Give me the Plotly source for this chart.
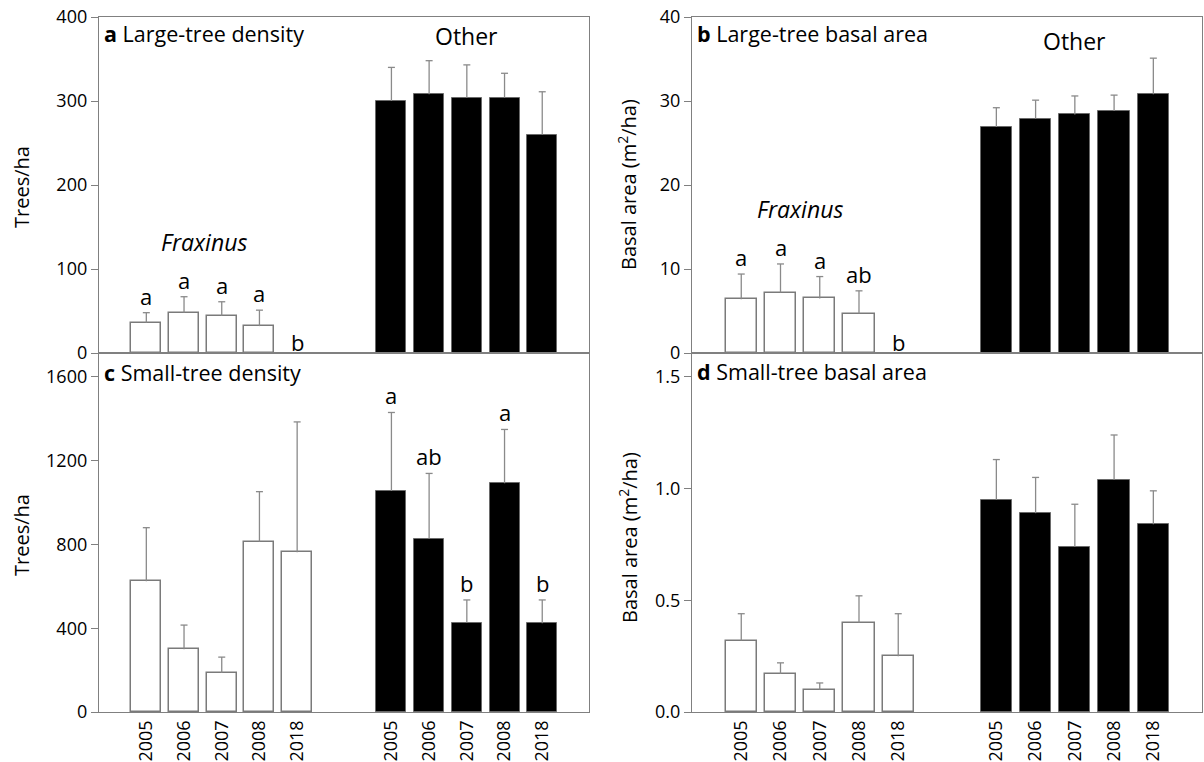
import plotly.graph_objects as go

# ---------------- data ----------------
years = ["2005", "2006", "2007", "2008", "2018"]

# Panel a: large-tree density (trees/ha)
a_frax_mean = [36, 48, 44, 32, 0]
a_frax_se = [12, 19, 17, 19, 0]
a_other_mean = [300, 308, 304, 304, 260]
a_other_se = [40, 40, 39, 29, 51]
a_frax_letters = ["a", "a", "a", "a", "b"]

# Panel b: large-tree basal area (m2/ha)
b_frax_mean = [6.4, 7.2, 6.5, 4.7, 0]
b_frax_se = [3.0, 3.4, 2.6, 2.7, 0]
b_other_mean = [26.9, 27.9, 28.4, 28.8, 30.8]
b_other_se = [2.3, 2.2, 2.2, 1.9, 4.3]
b_frax_letters = ["a", "a", "a", "ab", "b"]

# Panel c: small-tree density (trees/ha)
c_frax_mean = [624, 299, 186, 813, 763]
c_frax_se = [256, 116, 76, 239, 622]
c_other_mean = [1055, 828, 427, 1092, 424]
c_other_se = [375, 311, 108, 257, 111]
c_other_letters = ["a", "ab", "b", "a", "b"]

# Panel d: small-tree basal area (m2/ha)
d_frax_mean = [0.32, 0.17, 0.10, 0.40, 0.25]
d_frax_se = [0.12, 0.05, 0.03, 0.12, 0.19]
d_other_mean = [0.95, 0.89, 0.74, 1.04, 0.84]
d_other_se = [0.18, 0.16, 0.19, 0.20, 0.15]

# ---------------- layout helpers ----------------
W, H = 1204, 762
FONT = "Open Sans"
GRAY = "#808080"
ERRC = "#8a8a8a"

x_frax = [i for i in range(len(years))]
x_other = [i + 6.5 for i in range(len(years))]
XRANGE = [-1.255, 11.74]
BARW = 0.795


def px_x(p):
    return p / W


def px_y(p):
    return (H - p) / H


dom_left = [px_x(99), px_x(589)]
dom_right = [px_x(692), px_x(1202)]
dom_top = [px_y(353), px_y(17)]
dom_bot = [px_y(712), px_y(353)]

fig = go.Figure()


def add_errors(xs, means, ses, xa, ya):
    lx, ly, cx, cy = [], [], [], []
    for x, m, s in zip(xs, means, ses):
        if s <= 0:
            continue
        lx += [x, x, None]
        ly += [m, m + s, None]
        cx.append(x)
        cy.append(m + s)
    fig.add_trace(go.Scatter(x=lx, y=ly, mode="lines", xaxis=xa, yaxis=ya,
                             line=dict(color=ERRC, width=1.3),
                             showlegend=False, hoverinfo="skip"))
    fig.add_trace(go.Scatter(x=cx, y=cy, mode="markers", xaxis=xa, yaxis=ya,
                             marker=dict(symbol="line-ew", size=5,
                                         line=dict(color=ERRC, width=1.3)),
                             showlegend=False, hoverinfo="skip"))


def add_bars(xa, ya, frax_mean, frax_se, other_mean, other_se):
    fig.add_trace(go.Bar(
        x=x_frax, y=frax_mean, width=BARW, xaxis=xa, yaxis=ya,
        marker=dict(color="white",
                    line=dict(color="#7a7a7a",
                              width=[1.5 if v > 0 else 0 for v in frax_mean])),
        showlegend=False, hoverinfo="skip"))
    fig.add_trace(go.Bar(
        x=x_other, y=other_mean, width=BARW, xaxis=xa, yaxis=ya,
        marker=dict(color="black", line=dict(color="#6a6a6a", width=1)),
        showlegend=False, hoverinfo="skip"))
    add_errors(x_frax, frax_mean, frax_se, xa, ya)
    add_errors(x_other, other_mean, other_se, xa, ya)


add_bars("x", "y", a_frax_mean, a_frax_se, a_other_mean, a_other_se)
add_bars("x2", "y2", b_frax_mean, b_frax_se, b_other_mean, b_other_se)
add_bars("x3", "y3", c_frax_mean, c_frax_se, c_other_mean, c_other_se)
add_bars("x4", "y4", d_frax_mean, d_frax_se, d_other_mean, d_other_se)

tickvals = x_frax + x_other
ticktext = years + years

axis_common = dict(showline=True, mirror=True, linecolor=GRAY, linewidth=1.3,
                   showgrid=False, zeroline=False, automargin=False)

xbase = dict(range=XRANGE, tickvals=tickvals, ticktext=ticktext, ticks="",
             tickangle=-90, tickfont=dict(family=FONT, size=18, color="black"),
             **axis_common)

ybase = dict(ticks="outside", ticklen=7, tickcolor=GRAY, tickwidth=1.3,
             ticksuffix=" ",
             tickfont=dict(family=FONT, size=18, color="black"), **axis_common)

fig.update_layout(
    width=W, height=H,
    margin=dict(l=0, r=0, t=0, b=0, pad=0),
    paper_bgcolor="white", plot_bgcolor="white",
    bargap=0,
    xaxis=dict(domain=dom_left, anchor="y", showticklabels=False, **xbase),
    yaxis=dict(domain=dom_top, anchor="x", range=[0, 400], tickvals=[0, 100, 200, 300, 400], **ybase),
    xaxis2=dict(domain=dom_right, anchor="y2", showticklabels=False, **xbase),
    yaxis2=dict(domain=dom_top, anchor="x2", range=[0, 40], tickvals=[0, 10, 20, 30, 40], **ybase),
    xaxis3=dict(domain=dom_left, anchor="y3", showticklabels=True, **xbase),
    yaxis3=dict(domain=dom_bot, anchor="x3", range=[0, 1714], tickvals=[0, 400, 800, 1200, 1600], **ybase),
    xaxis4=dict(domain=dom_right, anchor="y4", showticklabels=True, **xbase),
    yaxis4=dict(domain=dom_bot, anchor="x4", range=[0, 1.607], tickvals=[0, 0.5, 1.0, 1.5],
                tickformat=".1f", **ybase),
)

ann = []


# significance letters
def letters(xs, means, ses, labs, xref, yref):
    for x, m, s, t in zip(xs, means, ses, labs):
        top = m + s
        ann.append(dict(x=x, y=top, xref=xref, yref=yref, text=t, showarrow=False,
                        xanchor="center", yanchor="bottom",
                        yshift=(-6 if top == 0 else 0),
                        font=dict(family=FONT, size=22, color="black")))


letters(x_frax, a_frax_mean, a_frax_se, a_frax_letters, "x", "y")
letters(x_frax, b_frax_mean, b_frax_se, b_frax_letters, "x2", "y2")
letters(x_other, c_other_mean, c_other_se, c_other_letters, "x3", "y3")

# group labels
grp_font = dict(family=FONT, size=23, color="black")
ann += [
    dict(x=1.52, y=132, xref="x", yref="y", text="<i>Fraxinus</i>", showarrow=False, font=grp_font),
    dict(x=8.5, y=377, xref="x", yref="y", text="Other", showarrow=False, font=grp_font),
    dict(x=1.49, y=17.1, xref="x2", yref="y2", text="<i>Fraxinus</i>", showarrow=False, font=grp_font),
    dict(x=8.5, y=37.1, xref="x2", yref="y2", text="Other", showarrow=False, font=grp_font),
]

# panel titles
pan_font = dict(family=FONT, size=21.5, color="black")
for xr, yr, ypx, txt in [("x domain", "paper", 33, "<b>a</b> Large-tree density"),
                         ("x2 domain", "paper", 33, "<b>b</b> Large-tree basal area"),
                         ("x3 domain", "paper", 372, "<b>c</b> Small-tree density"),
                         ("x4 domain", "paper", 371, "<b>d</b> Small-tree basal area")]:
    ann.append(dict(x=0.006, y=px_y(ypx), xref=xr, yref=yr, text=txt, showarrow=False,
                    xanchor="left", yanchor="middle", font=pan_font))

# y axis titles
ttl_font = dict(family=FONT, size=20, color="black")
for xpx, ypx, txt in [(21, 187, "Trees/ha"), (21, 535, "Trees/ha"),
                      (628, 185, "Basal area (m<sup>2</sup>/ha)"),
                      (628, 538, "Basal area (m<sup>2</sup>/ha)")]:
    ann.append(dict(x=px_x(xpx), y=px_y(ypx), xref="paper", yref="paper", text=txt,
                    showarrow=False, textangle=-90, xanchor="center", yanchor="middle",
                    font=ttl_font))

fig.update_layout(annotations=ann)

fig.write_html("out.html")
